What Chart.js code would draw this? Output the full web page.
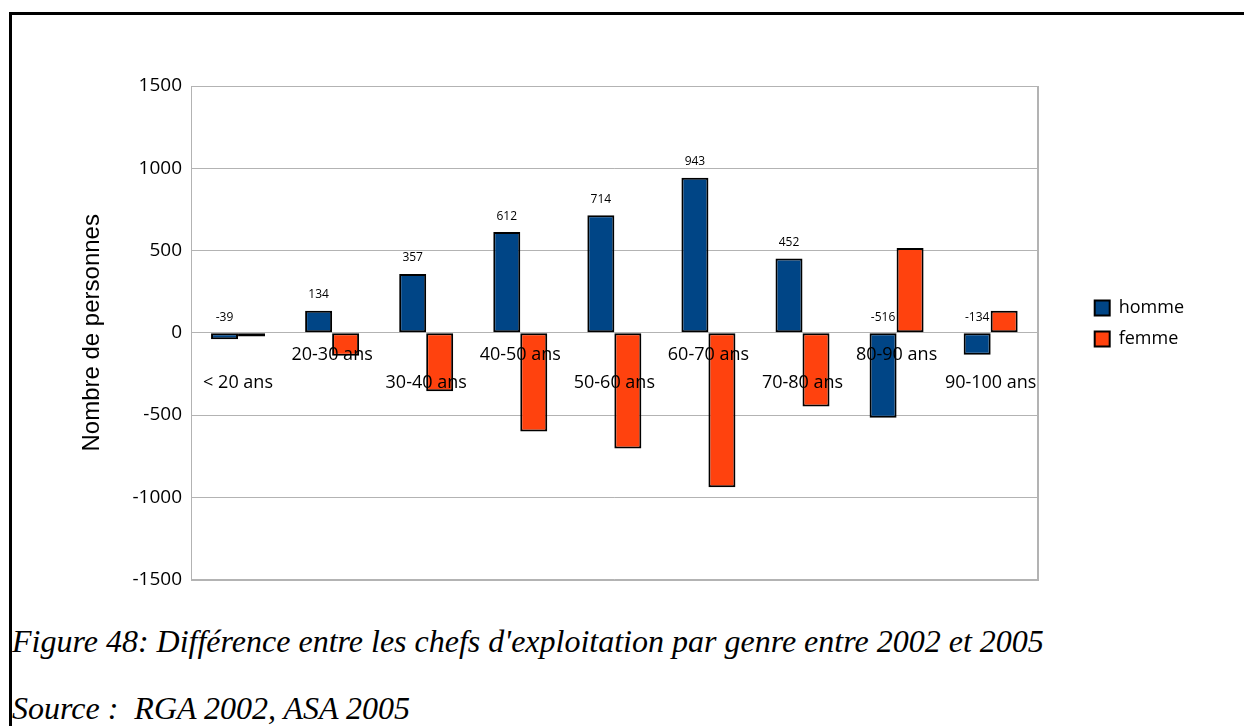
<!DOCTYPE html>
<html><head><meta charset="utf-8">
<script src="https://cdn.jsdelivr.net/npm/chart.js@4/dist/chart.umd.min.js"></script>
<style>
html,body{margin:0;padding:0;background:#fff;width:1244px;height:726px;overflow:hidden;}
#wrap{position:absolute;left:0;top:0;width:1244px;height:600px;}
.frameTop{position:absolute;left:9px;top:12px;width:1235px;height:3px;background:#000;z-index:5;}
.frameLeft{position:absolute;left:9px;top:12px;width:3px;height:714px;background:#000;z-index:5;}
.cap{position:absolute;left:12px;font-family:"Liberation Serif","Times New Roman",serif;font-style:italic;font-size:32px;line-height:36px;color:#000;white-space:nowrap;}
</style></head>
<body>
<div class="frameTop"></div><div class="frameLeft"></div>
<div id="wrap"><canvas id="c" width="1244" height="600"></canvas></div>
<div class="cap" style="top:623px">Figure 48: Différence entre les chefs d'exploitation par genre entre 2002 et 2005</div>
<div class="cap" style="top:690px">Source :&nbsp; RGA 2002, ASA 2005</div>
<script>
const categories = ['< 20 ans','20-30 ans','30-40 ans','40-50 ans','50-60 ans','60-70 ans','70-80 ans','80-90 ans','90-100 ans'];
const homme = [-39, 134, 357, 612, 714, 943, 452, -516, -134];
const femme = [-22, -139, -355, -600, -703, -939, -448, 516, 134];
const yTicks = [-1500, -1000, -500, 0, 500, 1000, 1500];

const labelRows = categories.map((c, i) => i % 2 === 0 ? ['', c] : [c]);

const plotFrame = {
  id: 'plotFrame',
  beforeDatasetsDraw(chart) {
    const a = chart.chartArea, ctx = chart.ctx;
    ctx.save();
    ctx.strokeStyle = '#b3b3b3';
    ctx.lineWidth = 1;
    ctx.strokeRect(Math.round(a.left) + 0.5, Math.round(a.top) + 0.5, Math.round(a.right - a.left), Math.round(a.bottom - a.top));
    ctx.restore();
  }
};
const valueLabels = {
  id: 'valueLabels',
  afterDatasetsDraw(chart) {
    const ctx = chart.ctx;
    const meta = chart.getDatasetMeta(0);
    ctx.save();
    ctx.font = '12px "Open Sans"';
    ctx.fillStyle = '#000';
    ctx.textAlign = 'center';
    ctx.textBaseline = 'middle';
    meta.data.forEach((bar, i) => {
      const top = Math.min(bar.y, bar.base);
      ctx.fillText(String(homme[i]), bar.x, top - 16);
    });
    ctx.restore();
  }
};

new Chart(document.getElementById('c'), {
  type: 'bar',
  data: {
    labels: labelRows,
    datasets: [
      {label: 'homme', data: homme, backgroundColor: '#004586', borderColor: '#000', borderWidth: 2, borderSkipped: false, categoryPercentage: 0.574, barPercentage: 1.0},
      {label: 'femme', data: femme, backgroundColor: '#ff420e', borderColor: '#000', borderWidth: 2, borderSkipped: false, categoryPercentage: 0.574, barPercentage: 1.0}
    ]
  },
  options: {
    responsive: false,
    animation: false,
    layout: {padding: {left: 74, top: 86, bottom: 19, right: 50}},
    plugins: {
      tooltip: {enabled: false},
      legend: {
        position: 'right',
        align: 'start',
        title: {display: true, text: ' ', font: {size: 10, lineHeight: 1}, padding: {top: 190, bottom: 0}},
        labels: {boxWidth: 15, boxHeight: 15, padding: 13, color: '#000', font: {family: 'Open Sans', size: 18}}
      }
    },
    scales: {
      x: {
        position: {y: 0},
        grid: {display: false, drawTicks: false},
        border: {display: false},
        ticks: {z: 1, color: '#000', padding: 8, autoSkip: false, maxRotation: 0, font: {family: 'Open Sans', size: 18, lineHeight: 1.55}}
      },
      y: {
        min: -1500, max: 1500,
        afterBuildTicks(s) { s.ticks = yTicks.map(v => ({value: v})); },
        afterFit(s) { s.width = 117; },
        grid: {color: '#b3b3b3', drawTicks: false},
        border: {color: '#b3b3b3'},
        ticks: {color: '#000', padding: 9, font: {family: 'Open Sans', size: 19}, callback: v => String(v)},
        title: {display: true, text: 'Nombre de personnes', color: '#000', font: {family: 'Liberation Sans', size: 24}}
      },
      y2: {
        position: 'right',
        min: -1500, max: 1500,
        afterFit(s) { s.width = 44; },
        grid: {display: false, drawTicks: false},
        border: {color: '#b3b3b3'},
        ticks: {display: false}
      }
    }
  },
  plugins: [plotFrame, valueLabels]
});
</script>
</body></html>
